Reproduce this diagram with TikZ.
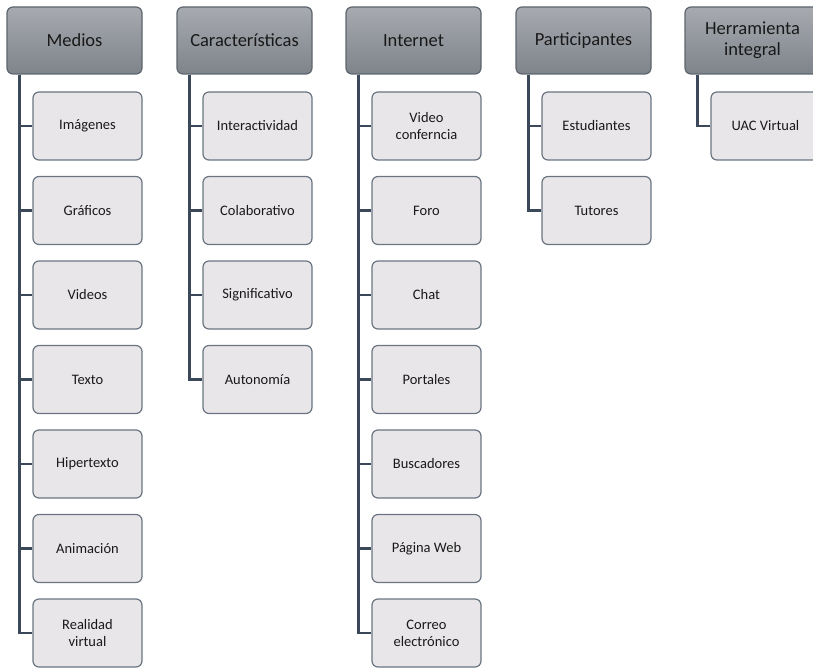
\documentclass[tikz,border=0pt]{standalone}
\usepackage{fontspec}
\setmainfont{Carlito}
\usetikzlibrary{calc}
\definecolor{headtop}{HTML}{A7AAAF}
\definecolor{headbot}{HTML}{7E848B}
\definecolor{headline}{HTML}{5E656E}
\definecolor{itemfill}{HTML}{E8E6E8}
\definecolor{itemline}{HTML}{6A7581}
\definecolor{branchcol}{HTML}{3B4859}
\tikzset{
  headbox/.style={draw=headline, line width=1.2pt, rounded corners=6pt,
    top color=headtop, bottom color=headbot, minimum width=135pt,
    minimum height=67pt, align=center, text=black!90,
    font=\fontsize{18.5}{21}\selectfont, inner sep=0pt},
  itembox/.style={draw=itemline, line width=1.2pt, rounded corners=6pt,
    fill=itemfill, minimum width=109pt, minimum height=68pt, align=center,
    text=black!90, font=\fontsize{14.5}{17}\selectfont, inner sep=0pt},
  branch/.style={draw=branchcol, line width=2.8pt}
}

\begin{document}
\begin{tikzpicture}[x=1pt, y=-1pt]
		%%%%% START %%%%%
		\useasboundingbox (0, 0) rectangle (813, 668);
		
		% headers
		\node[headbox] (med) at (74.5, 40.5) {Medios};
		\node[headbox] (car) at (244.5, 40.5) {Características};
		\node[headbox] (int) at (413.5, 40.5) {Internet};
		\node[headbox] (par) at (583.5, 40.5) {Participantes};
		\node[headbox] (her) at (752.5, 40.5) {Herramienta\\integral};
		
		% Medios
		\foreach \txt [count=\i] in {Im\'agenes, Gr\'aficos, Videos, Texto, Hipertexto, Animaci\'on, {Realidad\\virtual}}
			\node[itembox] (med\i) at (87.5, {126+84.5*(\i-1)}) {\txt};
		\foreach \i in {1,...,7}
			\draw[branch] ($(med.south west)+(13,0)$) |- (med\i.west);
		
		% Caracteristicas
		\foreach \txt [count=\i] in {Interactividad, Colaborativo, Significativo, Autonom\'ia}
			\node[itembox] (car\i) at (257.5, {126+84.5*(\i-1)}) {\txt};
		\foreach \i in {1,...,4}
			\draw[branch] ($(car.south west)+(13,0)$) |- (car\i.west);
		
		% Internet
		\foreach \txt [count=\i] in {{Video\\conferncia}, Foro, Chat, Portales, Buscadores, P\'agina Web, {Correo\\electr\'onico}}
			\node[itembox] (int\i) at (426.5, {126+84.5*(\i-1)}) {\txt};
		\foreach \i in {1,...,7}
			\draw[branch] ($(int.south west)+(13,0)$) |- (int\i.west);
		
		% Participantes
		\foreach \txt [count=\i] in {Estudiantes, Tutores}
			\node[itembox] (par\i) at (596.5, {126+84.5*(\i-1)}) {\txt};
		\foreach \i in {1,2}
			\draw[branch] ($(par.south west)+(13,0)$) |- (par\i.west);
		
		% Herramienta integral
		\node[itembox] (her1) at (765.5, 126) {UAC Virtual};
		\draw[branch] ($(her.south west)+(13,0)$) |- (her1.west);
		
		%%%%% END %%%%%
	\end{tikzpicture}
\end{document}
